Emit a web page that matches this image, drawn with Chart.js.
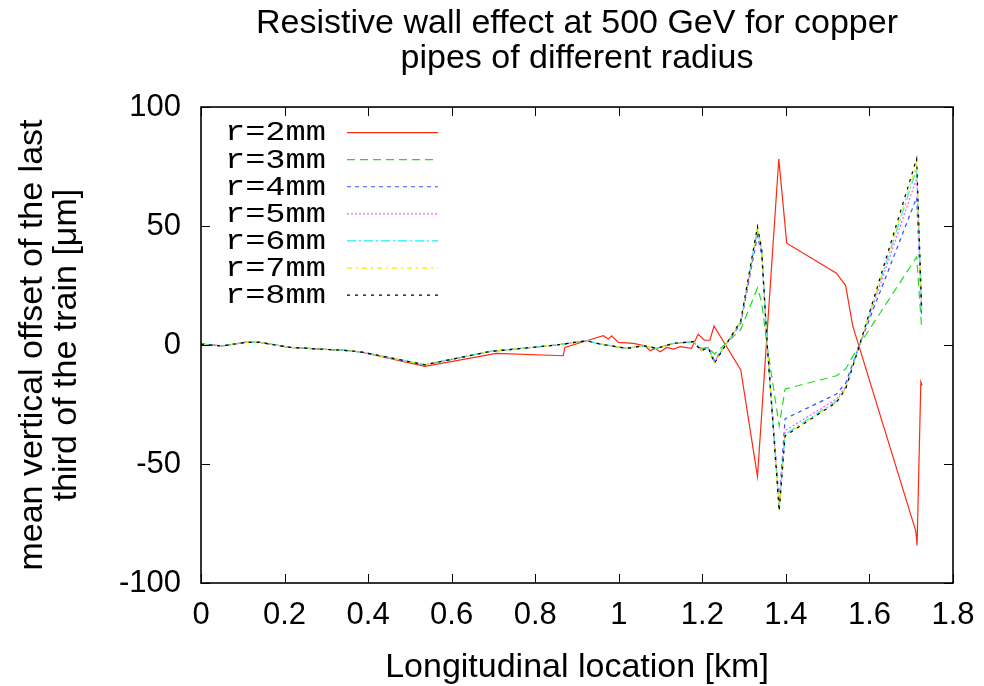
<!DOCTYPE html>
<html>
<head>
<meta charset="utf-8">
<script src="https://cdn.jsdelivr.net/npm/chart.js@4.4.1/dist/chart.umd.min.js"></script>
<style>
  html, body { margin: 0; padding: 0; background: #fff; }
  #wrap { width: 984px; height: 686px; }
</style>
</head>
<body>
<div id="wrap"><canvas id="wallChart" width="984" height="686"></canvas></div>
<script>
// longitudinal positions [km]
const kmR2 = [0, 0.05, 0.105, 0.141, 0.213, 0.357, 0.388, 0.536, 0.707, 0.867, 0.871, 0.923, 0.963, 0.975, 0.983, 0.999,
  1.035, 1.063, 1.075, 1.087, 1.099, 1.115, 1.131, 1.147, 1.174, 1.19, 1.205, 1.218, 1.228, 1.292, 1.332, 1.383,
  1.402, 1.521, 1.543, 1.56, 1.711, 1.714, 1.723, 1.726];
const kmOther = [0, 0.05, 0.105, 0.141, 0.213, 0.357, 0.388, 0.536, 0.692, 0.851, 0.923, 0.955, 1.019, 1.059, 1.091,
  1.131, 1.178, 1.198, 1.214, 1.229, 1.292, 1.332, 1.342, 1.355, 1.384, 1.398, 1.521, 1.543, 1.577, 1.713, 1.725];

// mean vertical offset [um]
const offR2 = [0.4, -0.4, 1.1, 1.1, -1, -2.4, -3.1, -9, -3.5, -4.5, -1, 1.8, 3.9, 2.5, 3.9, 1.1,
  0.7, -0.3, -2.4, -1.4, -2.8, -1, -1.7, -0.7, -1.4, 4.5, 2, 2, 8, -10.5, -55.3, 78.2,
  42.8, 30.2, 25, 8, -78.2, -84.2, -15.5, -17];
const offR3 = [0.4, -0.4, 1.1, 1.1, -1, -2.4, -3.1, -8.3, -2.7, 0, 1.8, 0.4, -1.4, -0.3, -1.4,
  0.7, 1.4, -1.4, -1, -3.8, 6.5, 24, 18, -0.3, -34, -18.5, -12.9, -10.1, 0.4, 37, 7];
const offR4 = [0.4, -0.4, 1.1, 1.1, -1, -2.4, -3.1, -8.3, -2.7, 0, 1.8, 0.4, -1.4, -0.3, -1.4,
  0.7, 1.4, -2, -1, -6.5, 9, 46, 38, 0.8, -66, -31, -20.6, -16, 0.4, 62, 12];
const offR5 = [0.4, -0.4, 1.1, 1.1, -1, -2.4, -3.1, -8.3, -2.7, 0, 1.8, 0.4, -1.4, -0.3, -1.4,
  0.7, 1.4, -2.2, -1, -7, 9.5, 48, 39.5, 1, -68, -36, -22.7, -17.5, 0.4, 70, 14];
const offR6 = [0.4, -0.4, 1.1, 1.1, -1, -2.4, -3.1, -8.3, -2.7, 0, 1.8, 0.4, -1.4, -0.3, -1.4,
  0.7, 1.4, -2.3, -1, -7.3, 10, 49, 40, 1.1, -69, -37.5, -23.5, -18, 0.4, 74, 14.5];
const offR7 = [0.4, -0.4, 1.1, 1.1, -1, -2.4, -3.1, -8.3, -2.7, 0, 1.8, 0.4, -1.4, -0.3, -1.4,
  0.7, 1.4, -2.4, -1, -7.5, 10.1, 49.5, 40.3, 1.1, -69.5, -38, -24, -18.3, 0.4, 76, 15];
const offR8 = [0.4, -0.4, 1.1, 1.1, -1, -2.4, -3.1, -8.3, -2.7, 0, 1.8, 0.4, -1.4, -0.3, -1.4,
  0.7, 1.4, -2.4, -1, -7.6, 10.2, 49.8, 40.4, 1.1, -69.8, -38.2, -24.1, -18.5, 0.4, 78.3, 15.2];

const seriesLabels = ['r=2mm', 'r=3mm', 'r=4mm', 'r=5mm', 'r=6mm', 'r=7mm', 'r=8mm'];
const xTicks = [0, 0.2, 0.4, 0.6, 0.8, 1, 1.2, 1.4, 1.6, 1.8];
const yTicks = [-100, -50, 0, 50, 100];

const colors = ['#ff2a12', '#22dd22', '#3050ff', '#ff55ff', '#22eeee', '#eeee00', '#000000'];
const dashes = [[], [8, 5], [4, 4], [2, 2], [9, 3, 2, 3], [5, 4, 2, 4], [3, 5]];

const toPoints = (xs, ys) => xs.map((x, i) => ({ x: x, y: ys[i] }));
const seriesData = [
  toPoints(kmR2, offR2),
  toPoints(kmOther, offR3),
  toPoints(kmOther, offR4),
  toPoints(kmOther, offR5),
  toPoints(kmOther, offR6),
  toPoints(kmOther, offR7),
  toPoints(kmOther, offR8)
];

// gnuplot style box: border plus inward ticks on all four sides
const framePlugin = {
  id: 'frame',
  afterDatasetsDraw(chart) {
    const { ctx, chartArea: a, scales: { x, y } } = chart;
    ctx.save();
    ctx.strokeStyle = '#000';
    ctx.lineWidth = 1;
    ctx.beginPath();
    x.ticks.forEach(t => {
      const px = Math.round(x.getPixelForValue(t.value)) + 0.5;
      ctx.moveTo(px, a.bottom); ctx.lineTo(px, a.bottom - 9);
      ctx.moveTo(px, a.top); ctx.lineTo(px, a.top + 9);
    });
    y.ticks.forEach(t => {
      const py = Math.round(y.getPixelForValue(t.value)) + 0.5;
      ctx.moveTo(a.left, py); ctx.lineTo(a.left + 9, py);
      ctx.moveTo(a.right, py); ctx.lineTo(a.right - 9, py);
    });
    ctx.stroke();
    ctx.lineWidth = 1.6;
    ctx.strokeRect(a.left, a.top, a.right - a.left, a.bottom - a.top);
    ctx.restore();
  }
};

// key in the upper left corner: label first, line sample after it
const keyPlugin = {
  id: 'key',
  afterDraw(chart) {
    const { ctx, chartArea: a } = chart;
    ctx.save();
    chart.data.datasets.forEach((ds, i) => {
      const rowY = a.top + 25 + i * 27.1;
      ctx.save();
      ctx.translate(a.left + 24, rowY + 1);
      ctx.scale(1.2, 1);
      ctx.font = '28px "Liberation Mono", "DejaVu Sans Mono", monospace';
      ctx.fillStyle = '#000';
      ctx.textBaseline = 'middle';
      ctx.fillText(ds.label, 0, 0);
      ctx.restore();
      ctx.strokeStyle = ds.borderColor;
      ctx.lineWidth = 1.2;
      ctx.setLineDash(ds.borderDash);
      ctx.beginPath();
      ctx.moveTo(a.left + 146, rowY + 0.5);
      ctx.lineTo(a.left + 237, rowY + 0.5);
      ctx.stroke();
      ctx.setLineDash([]);
    });
    ctx.restore();
  }
};

const sansFont = '"Liberation Sans", Arial, Helvetica, sans-serif';

new Chart(document.getElementById('wallChart'), {
  type: 'line',
  data: {
    datasets: seriesLabels.map((label, i) => ({
      label: label,
      data: seriesData[i],
      borderColor: colors[i],
      borderDash: dashes[i],
      borderWidth: 1.2,
      pointRadius: 0,
      tension: 0,
      fill: false,
      order: seriesLabels.length - i
    }))
  },
  options: {
    responsive: false,
    animation: false,
    layout: { padding: { left: 0, right: 31, top: 0, bottom: 0 } },
    plugins: {
      legend: { display: false },
      tooltip: { enabled: false },
      title: {
        display: true,
        fullSize: false,
        text: ['Resistive wall effect at 500 GeV for copper', 'pipes of different radius'],
        color: '#000',
        font: { family: sansFont, size: 34, weight: 'normal', lineHeight: 1.03 },
        padding: { top: 6, bottom: 31 }
      }
    },
    scales: {
      x: {
        type: 'linear',
        min: 0,
        max: 1.8,
        afterBuildTicks: s => { s.ticks = xTicks.map(v => ({ value: v })); },
        afterFit: s => { s.height = 103; s.paddingLeft = 0; s.paddingRight = 0; },
        grid: { display: false, drawTicks: false },
        border: { display: false },
        ticks: {
          color: '#000', padding: 14, maxRotation: 0,
          font: { family: sansFont, size: 31 },
          callback: v => String(Math.round(v * 10) / 10)
        },
        title: {
          display: true,
          text: 'Longitudinal location [km]',
          color: '#000',
          font: { family: sansFont, size: 34, lineHeight: 1.07 },
          padding: { top: 0, bottom: 0 }
        }
      },
      y: {
        min: -100,
        max: 100,
        afterBuildTicks: s => { s.ticks = yTicks.map(v => ({ value: v })); },
        afterFit: s => { s.width = 201; s.paddingTop = 0; s.paddingBottom = 0; },
        grid: { display: false, drawTicks: false },
        border: { display: false },
        ticks: { color: '#000', padding: 20, font: { family: sansFont, size: 31 } },
        title: {
          display: true,
          text: ['mean vertical offset of the last', 'third of the train [\u03bcm]'],
          color: '#000',
          font: { family: sansFont, size: 34, lineHeight: 1.0 },
          padding: { top: 16, bottom: 0 }
        }
      }
    }
  },
  plugins: [framePlugin, keyPlugin]
});
</script>
</body>
</html>
